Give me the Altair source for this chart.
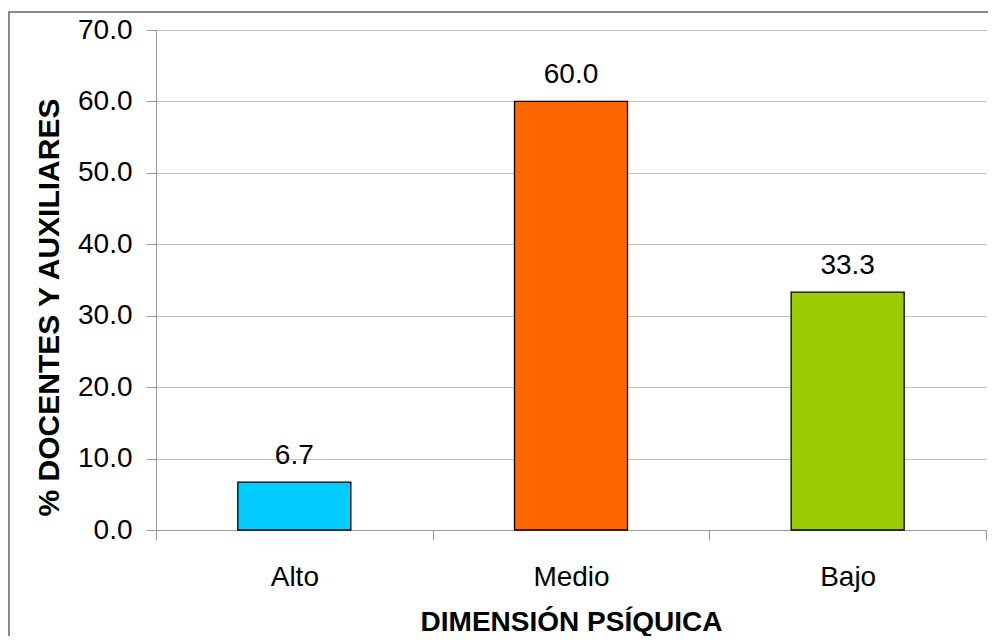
import altair as alt
import pandas as pd

categories = ["Alto", "Medio", "Bajo"]
values = [6.7, 60.0, 33.3]
colors = ["#00CCFF", "#FF6600", "#99CC00"]
y_ticks = [0, 10, 20, 30, 40, 50, 60, 70]

df = pd.DataFrame({"cat": categories, "val": values, "color": colors})

W, H = 830, 500
FONT = "Liberation Sans"
FS = 28

x = alt.X(
    "cat:N",
    sort=categories,
    scale=alt.Scale(paddingInner=0, paddingOuter=0),
    axis=alt.Axis(
        title="DIMENSIÓN PSÍQUICA",
        labelAngle=0,
        tickBand="extent",
        tickSize=10,
        labelPadding=23,
        labelFontSize=FS,
        labelFont=FONT,
        labelColor="black",
        titleFontSize=FS,
        titleFont=FONT,
        titleFontWeight="bold",
        titleColor="black",
        titleY=100,
        titleBaseline="alphabetic",
        domainColor="#999999",
        tickColor="#999999",
        grid=False,
    ),
)

y = alt.Y(
    "val:Q",
    scale=alt.Scale(domain=[0, 70], nice=False, zero=True),
    axis=alt.Axis(
        title="% DOCENTES Y AUXILIARES",
        values=y_ticks,
        format=".1f",
        tickSize=10,
        labelPadding=14,
        labelFontSize=FS,
        labelFont=FONT,
        labelColor="black",
        titleFontSize=30,
        titleFont=FONT,
        titleFontWeight="bold",
        titleColor="black",
        titleX=-98,
        titleY=277,
        titleAngle=270,
        titleAlign="center",
        titleBaseline="alphabetic",
        domainColor="#999999",
        tickColor="#999999",
        grid=True,
        gridColor="#c0c0c0",
        gridWidth=1,
    ),
)

base = alt.Chart(df)

bars = base.mark_bar(width=113, stroke="black", strokeWidth=1.3).encode(
    x=x, y=y, color=alt.Color("color:N", scale=None)
)

labels = base.mark_text(
    dy=-18, baseline="alphabetic", fontSize=FS, font=FONT, color="black"
).encode(x=x, y=y, text=alt.Text("val:Q", format=".1f"))

border = base.mark_rect(fillOpacity=0, stroke="#888888", strokeWidth=1.5).encode(
    x=alt.value(-147), x2=alt.value(W + 200), y=alt.value(-18), y2=alt.value(H + 300)
)

chart = (
    alt.layer(bars, labels, border)
    .properties(
        width=W,
        height=H,
        autosize=alt.AutoSizeParams(type="none"),
        padding={"left": 148, "top": 22, "right": 2, "bottom": 106},
        background="white",
    )
    .configure_view(strokeWidth=0)
)

chart.save("out.html", embed_options={"renderer": "svg", "actions": False})
